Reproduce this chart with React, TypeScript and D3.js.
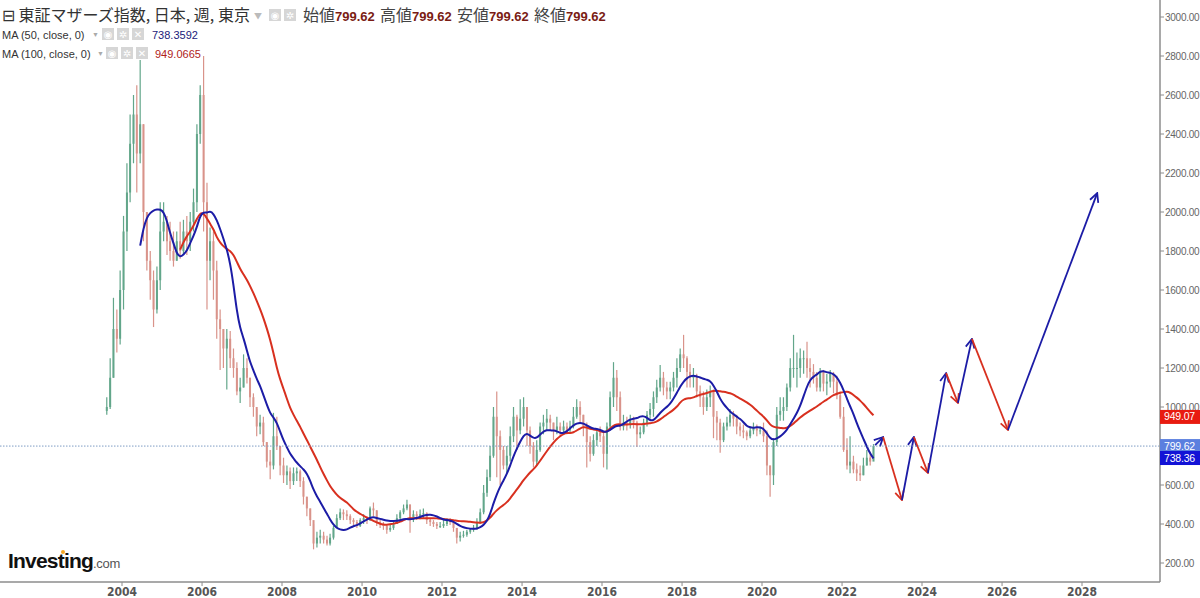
import React from 'react';
import * as d3 from 'd3';

// monthly bars, Aug 2003 .. Oct 2022
const startYear = 2003;
const startMonth = 7;

const closes = [
  1000, 1150, 1400, 1350, 1600,
  1900, 2100, 2350, 2500, 2300, 2450, 2000, 1750, 1650, 1500, 1650, 1900,
  1950, 1850, 1800, 1750, 1850, 1800, 1900, 1850, 1950, 2050, 2400, 2600,
  2050, 1750, 1850, 1700, 1450, 1400, 1300, 1350, 1250, 1200, 1080, 1100,
  1200, 1150, 1050, 1000, 900, 920, 820, 720, 700, 850, 800, 700,
  650, 670, 620, 660, 670, 620, 540, 480, 420, 300, 330, 340,
  320, 300, 330, 380, 430, 460, 450, 440, 420, 410, 390, 420,
  430, 420, 480, 470, 410, 400, 390, 370, 380, 400, 430, 460,
  480, 500, 430, 450, 440, 450, 455, 420, 410, 400, 390, 390,
  400, 420, 410, 380, 330, 340, 345, 360, 370, 380, 410, 460,
  560, 640, 750, 950, 850, 780, 700, 750, 850, 950, 880, 940,
  1000, 880, 800, 720, 780, 900, 920, 940, 920, 880, 900, 880,
  900, 880, 900, 950, 1000, 960, 900, 820, 760, 830, 870, 850,
  760, 900, 1050, 1150, 1050, 900, 920, 910, 940, 920, 860, 870,
  920, 960, 990, 1050, 1100, 1150, 1100, 1080, 1100, 1150, 1200, 1270,
  1250, 1180, 1150, 1160, 1080, 1050, 1000, 1050, 1080, 950, 920, 830,
  900, 920, 960, 940, 900, 880, 870, 850, 880, 890, 880, 880,
  850, 700, 650, 820, 960, 980, 1000, 1100, 1200, 1200, 1200, 1250,
  1250, 1200, 1180, 1150, 1100, 1180, 1120, 1130, 1170, 1130, 1060, 950,
  780, 700, 720, 680, 660, 650, 700, 740, 720, 800,
];

const highs = [
  1050, 1250, 1560, 1500, 1700,
  1980, 2250, 2500, 2600, 2650, 2780, 2450, 2000, 1800, 1700, 1720, 2050,
  2050, 1980, 1950, 1900, 1900, 1950, 1960, 1980, 2000, 2120, 2450, 2650,
  2800, 2150, 1920, 1900, 1750, 1500, 1400, 1400, 1390, 1300, 1230, 1150,
  1270, 1250, 1150, 1070, 990, 960, 950, 820, 780, 970, 950, 800,
  740, 700, 690, 690, 690, 680, 640, 540, 480, 400, 360, 370,
  360, 340, 350, 390, 450, 480, 475, 470, 450, 430, 420, 430,
  450, 440, 490, 510, 470, 420, 410, 395, 400, 420, 450, 470,
  500, 525, 500, 470, 465, 475, 480, 460, 430, 420, 410, 410,
  420, 430, 430, 415, 380, 360, 365, 370, 380, 395, 430, 480,
  600, 680, 800, 1000, 1080, 880, 800, 800, 900, 1000, 960, 1040,
  1050, 1000, 900, 820, 830, 920, 960, 990, 960, 920, 950, 920,
  930, 920, 930, 1000, 1040, 1030, 960, 920, 850, 860, 890, 900,
  870, 920, 1080, 1230, 1190, 1080, 960, 950, 960, 950, 930, 900,
  940, 980, 1020, 1080, 1140, 1215, 1180, 1130, 1130, 1180, 1250, 1300,
  1370, 1260, 1220, 1200, 1170, 1110, 1080, 1090, 1110, 1090, 980, 940,
  920, 950, 990, 980, 960, 920, 910, 880, 900, 920, 910, 900,
  920, 880, 700, 840, 1000, 1050, 1050, 1120, 1250, 1370, 1280, 1300,
  1290, 1335, 1250, 1220, 1180, 1200, 1190, 1170, 1190, 1180, 1160, 1080,
  1000, 840, 850, 750, 710, 700, 740, 780, 770, 810,
];

const lows = [
  960, 990, 1150, 1280, 1320,
  1500, 1800, 2050, 2250, 2100, 2250, 1850, 1700, 1550, 1410, 1480, 1600,
  1850, 1780, 1750, 1720, 1750, 1760, 1780, 1780, 1800, 1900, 2000, 2350,
  1900, 1500, 1650, 1550, 1350, 1190, 1200, 1090, 1200, 1150, 1060, 1020,
  1100, 1120, 1000, 950, 850, 860, 800, 690, 630, 680, 780, 650,
  610, 600, 580, 600, 620, 590, 500, 440, 390, 270, 280, 300,
  300, 290, 290, 320, 380, 420, 420, 420, 400, 390, 380, 385,
  400, 400, 415, 440, 390, 380, 370, 350, 360, 370, 400, 420,
  450, 470, 355, 410, 420, 425, 430, 400, 390, 385, 375, 380,
  380, 390, 395, 360, 300, 310, 330, 335, 350, 360, 370, 400,
  450, 540, 620, 740, 640, 600, 680, 660, 720, 820, 780, 860,
  900, 800, 760, 690, 700, 770, 860, 880, 880, 830, 860, 850,
  860, 860, 870, 890, 940, 920, 850, 690, 720, 750, 800, 820,
  690, 680, 880, 1000, 980, 880, 880, 880, 890, 890, 795, 840,
  860, 900, 940, 950, 1020, 1080, 1060, 1040, 1040, 1080, 1100, 1180,
  1200, 1100, 1100, 1100, 1050, 1000, 960, 980, 1000, 840, 830, 765,
  820, 880, 900, 900, 860, 850, 840, 830, 840, 860, 850, 860,
  820, 650, 540, 600, 800, 930, 930, 980, 1080, 1150, 1100, 1150,
  1170, 1150, 1100, 1120, 1080, 1080, 1080, 1060, 1100, 1070, 1040, 940,
  770, 680, 660, 660, 620, 620, 650, 700, 700, 730,
];

// hand-drawn forecast zigzag
const forecastDates = [
  '2022-10-30', '2023-01-11', '2023-07-02', '2023-10-19', '2024-02-24',
  '2024-08-08', '2024-11-24', '2025-04-01', '2026-02-24', '2028-05-19',
];
const forecastValues = [805, 846, 523, 846, 662, 1174, 1021, 1349, 882, 2097];

const priceTicks = d3.range(200, 3001, 200);
const yearTicks = d3.range(2004, 2029, 2);

const lastPrice = 799.62;
const ma50Last = 738.36;
const ma100Last = 949.07;

const W = 1200;
const H = 598;
const axisX = 1160;
const axisY = 582;

const x = d3.scaleTime()
  .domain([new Date(2004, 0, 1), new Date(2028, 0, 1)])
  .range([122, 1082]);
const y = d3.scaleLinear().domain([200, 3000]).range([563, 17]);

const bars = closes.map((c, i) => ({
  date: new Date(startYear, startMonth + i, 15),
  open: i === 0 ? 980 : closes[i - 1],
  close: c,
  high: highs[i],
  low: lows[i],
}));

function movingAvg(win: number) {
  const out: { date: Date; value: number }[] = [];
  for (let i = win - 1; i < bars.length; i++) {
    out.push({ date: bars[i].date, value: d3.mean(closes.slice(i - win + 1, i + 1)) as number });
  }
  return out;
}
const ma50 = movingAvg(11); // 50 weeks ~ 11.5 months
const ma100 = movingAvg(23); // 100 weeks ~ 23 months

const maLine = d3.line<{ date: Date; value: number }>()
  .x(d => x(d.date))
  .y(d => y(d.value))
  .curve(d3.curveBasis);

const forecast = forecastDates.map((d, i) => ({ date: new Date(d), value: forecastValues[i] }));

const UP = '#62a68a';
const DOWN = '#d9938a';
const BLUE = '#1c1ca6';
const RED = '#d8301f';

const Icons: React.FC<{ x0: number; y0: number; n: number }> = ({ x0, y0, n }) => (
  <g>
    {d3.range(n).map(i => (
      <g key={i} transform={`translate(${x0 + i * 15},${y0})`}>
        <rect width={12} height={12} fill="#d6d6d6" />
        <text x={6} y={10} fontSize={10} fill="#fff" textAnchor="middle" fontFamily="DejaVu Sans">
          {['◉', '✲', '✕'][i]}
        </text>
      </g>
    ))}
  </g>
);

const headerValues: [string, number, number][] = [
  ['始値', 303, 335],
  ['高値', 380, 412],
  ['安値', 457, 489],
  ['終値', 534, 566],
];

const App: React.FC = () => {
  const badges = [
    { v: ma100Last, fill: '#e81b10' },
    { v: lastPrice, fill: '#5b7fdf' },
    { v: ma50Last, fill: '#1212d6' },
  ];
  return (
    <svg width={W} height={H} style={{ position: 'absolute', left: 0, top: 0, background: '#fff' }}
      fontFamily="'Liberation Sans', Arial, sans-serif">
      <defs>
        {[['up', BLUE], ['down', RED]].map(([id, c]) => (
          <marker key={id} id={`arr-${id}`} viewBox="0 0 10 10" refX={9} refY={5}
            markerWidth={11} markerHeight={11} markerUnits="userSpaceOnUse" orient="auto">
            <path d="M1,1 L9,5 L1,9" fill="none" stroke={c} strokeWidth={1.6} />
          </marker>
        ))}
      </defs>

      {/* candles */}
      <g>
        {bars.map((b, i) => {
          const col = b.close >= b.open ? UP : DOWN;
          const cx = x(b.date);
          const top = y(Math.max(b.open, b.close));
          const bot = y(Math.min(b.open, b.close));
          return (
            <g key={i}>
              <line x1={cx} x2={cx} y1={y(b.high)} y2={y(b.low)} stroke={col} strokeWidth={1.2} />
              <rect x={cx - 1} y={top} width={2} height={Math.max(1, bot - top)} fill={col} />
            </g>
          );
        })}
      </g>

      <path d={maLine(ma100) || ''} fill="none" stroke={RED} strokeWidth={2} />
      <path d={maLine(ma50) || ''} fill="none" stroke={BLUE} strokeWidth={2} />

      {/* forecast arrows */}
      {forecast.slice(1).map((p, i) => {
        const a = forecast[i];
        const up = p.value > a.value;
        return (
          <line key={i} x1={x(a.date)} y1={y(a.value)} x2={x(p.date)} y2={y(p.value)}
            stroke={up ? BLUE : RED} strokeWidth={1.8} markerEnd={`url(#arr-${up ? 'up' : 'down'})`} />
        );
      })}

      {/* last price line */}
      <line x1={0} x2={axisX} y1={y(lastPrice)} y2={y(lastPrice)} stroke="#7f9cc4" strokeWidth={1}
        strokeDasharray="1.5,1.5" />

      {/* axes */}
      <line x1={axisX} x2={axisX} y1={0} y2={axisY} stroke="#8c8c8c" strokeWidth={1.5} />
      <line x1={0} x2={axisX} y1={axisY} y2={axisY} stroke="#8c8c8c" strokeWidth={1.5} />
      {priceTicks.map(t => (
        <g key={t}>
          <line x1={axisX} x2={axisX + 4} y1={y(t)} y2={y(t)} stroke="#8c8c8c" />
          <text x={axisX + 5} y={y(t) + 3.5} fontSize={10} letterSpacing={-0.25} fill="#666">
            {d3.format('.2f')(t)}
          </text>
        </g>
      ))}
      {yearTicks.map(t => {
        const tx = x(new Date(t, 0, 1));
        return (
          <g key={t}>
            <line x1={tx} x2={tx} y1={axisY} y2={axisY + 4} stroke="#8c8c8c" />
            <text x={tx} y={596} fontSize={12} fontWeight="bold" fill="#555" textAnchor="middle"
              fontFamily="'Liberation Sans Narrow', 'DejaVu Sans Condensed', sans-serif">{t}</text>
          </g>
        );
      })}

      {badges.map(b => (
        <g key={b.v}>
          <rect x={axisX} y={y(b.v) - 7} width={W - axisX} height={14} fill={b.fill} />
          <text x={axisX + 4} y={y(b.v) + 3.5} fontSize={10.5} letterSpacing={-0.2} fill="#fff">
            {d3.format('.2f')(b.v)}
          </text>
        </g>
      ))}

      {/* legend */}
      <g fontFamily="'Noto Sans CJK JP', sans-serif" fontSize={16}>
        <text x={2} y={21} fill="#333">⊟ 東証マザーズ指数, 日本, 週, 東京</text>
        <text x={254} y={19} fontSize={8} fill="#bbb">▼</text>
        <Icons x0={269} y0={9} n={2} />
        {headerValues.map(([l, lx, vx]) => (
          <g key={l}>
            <text x={lx} y={21} fill="#444">{l}</text>
            <text x={vx} y={21} fill="#7a1c14" fontWeight="bold" fontSize={13}
              fontFamily="'Liberation Sans', Arial, sans-serif">{d3.format('.2f')(lastPrice)}</text>
          </g>
        ))}
      </g>
      <g fontSize={11}>
        <text x={2} y={39} fill="#333">MA (50, close, 0)</text>
        <text x={92} y={37} fontSize={7} fill="#aaa">▼</text>
        <Icons x0={102} y0={28} n={3} />
        <text x={152} y={39} fill="#1a1a7a">738.3592</text>
        <text x={2} y={58} fill="#333">MA (100, close, 0)</text>
        <text x={97} y={56} fontSize={7} fill="#aaa">▼</text>
        <Icons x0={106} y0={47} n={3} />
        <text x={155} y={58} fill="#b0231a">949.0665</text>
      </g>

      {/* logo */}
      <text x={8} y={568} fontSize={21} fontWeight="bold" fill="#111" letterSpacing={-0.8}>
        Investing<tspan fontSize={13} fontWeight="normal" fill="#555" letterSpacing={-0.3}>.com</tspan>
      </text>
      <circle cx={63} cy={552} r={2} fill="#f5a623" />
    </svg>
  );
};

export default App;
